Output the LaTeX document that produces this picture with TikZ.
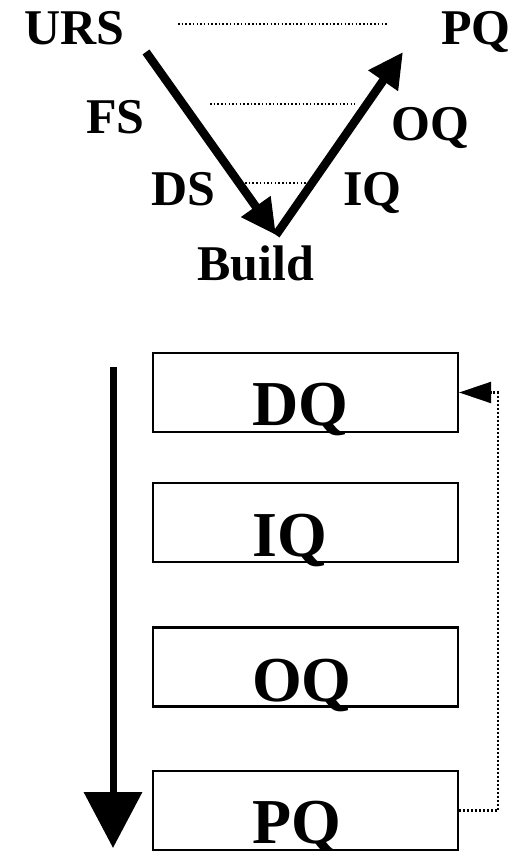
\documentclass[tikz,border=0pt]{standalone}
\usepackage{fontspec}
\setmainfont{Liberation Serif}
\usetikzlibrary{arrows.meta}
\tikzset{
  toplabel/.style={inner sep=0pt, anchor=base west, font=\bfseries\fontsize{50}{50}\selectfont},
  boxlabel/.style={inner sep=0pt, anchor=base west, font=\bfseries\fontsize{64}{64}\selectfont},
  qbox/.style={draw, line width=2.2pt, minimum width=305pt, minimum height=79pt, inner sep=0pt},
  varrow/.style={line width=8.5pt, -{Triangle[length=35pt,width=34pt]}},
  guide/.style={line width=1.5pt, dash pattern=on 1.5pt off 2.2pt},
  feedback/.style={line width=2.2pt, dash pattern=on 2pt off 2pt, -{Triangle[length=32pt,width=21pt]}},
  flow/.style={line width=7pt, -{Triangle[length=56pt,width=57pt]}}
}
\begin{document}
\begin{tikzpicture}[x=1pt,y=-1pt]
\useasboundingbox (0,0) rectangle (530,851);
% top V
\node[toplabel] (urs) at (24,45) {URS};
\node[toplabel] (pqt) at (441,45) {PQ};
\node[toplabel] (fs) at (86,133) {FS};
\node[toplabel] (oqt) at (391,140) {OQ};
\node[toplabel] (ds) at (151,205) {DS};
\node[toplabel] (iqt) at (343,205) {IQ};
\node[toplabel] (build) at (197,280) {Build};
\coordinate (vstart) at (146,52);
\coordinate (vbottom) at (276,235);
\coordinate (vend) at (403,52);
\coordinate (g1a) at (178,24);
\coordinate (g1b) at (387,24);
\coordinate (g2a) at (210,104);
\coordinate (g2b) at (355,104);
\coordinate (g3a) at (245,183);
\coordinate (g3b) at (307,183);
\draw[guide] (g1a) -- (g1b);
\draw[guide] (g2a) -- (g2b);
\draw[guide] (g3a) -- (g3b);
\draw[varrow] (vstart) -- (vbottom);
\draw[varrow] (vbottom) -- (vend);
% boxes
\node[qbox] (dqbox) at (305.5,392.5) {};
\node[qbox] (iqbox) at (305.5,522.5) {};
\node[qbox] (oqbox) at (305.5,667) {};
\node[qbox] (pqbox) at (305.5,810.5) {};
\node[boxlabel] (dq) at (252,425) {DQ};
\node[boxlabel] (iq) at (252,556) {IQ};
\node[boxlabel] (oq) at (252,701) {OQ};
\node[boxlabel] (pq) at (252,843) {PQ};
% left flow arrow
\coordinate (fstart) at (113,367);
\coordinate (fend) at (113,848);
\draw[flow] (fstart) -- (fend);
% feedback
\draw[feedback] (pqbox.east) -- ++(39,0) |- (dqbox.east);
\end{tikzpicture}
\end{document}
